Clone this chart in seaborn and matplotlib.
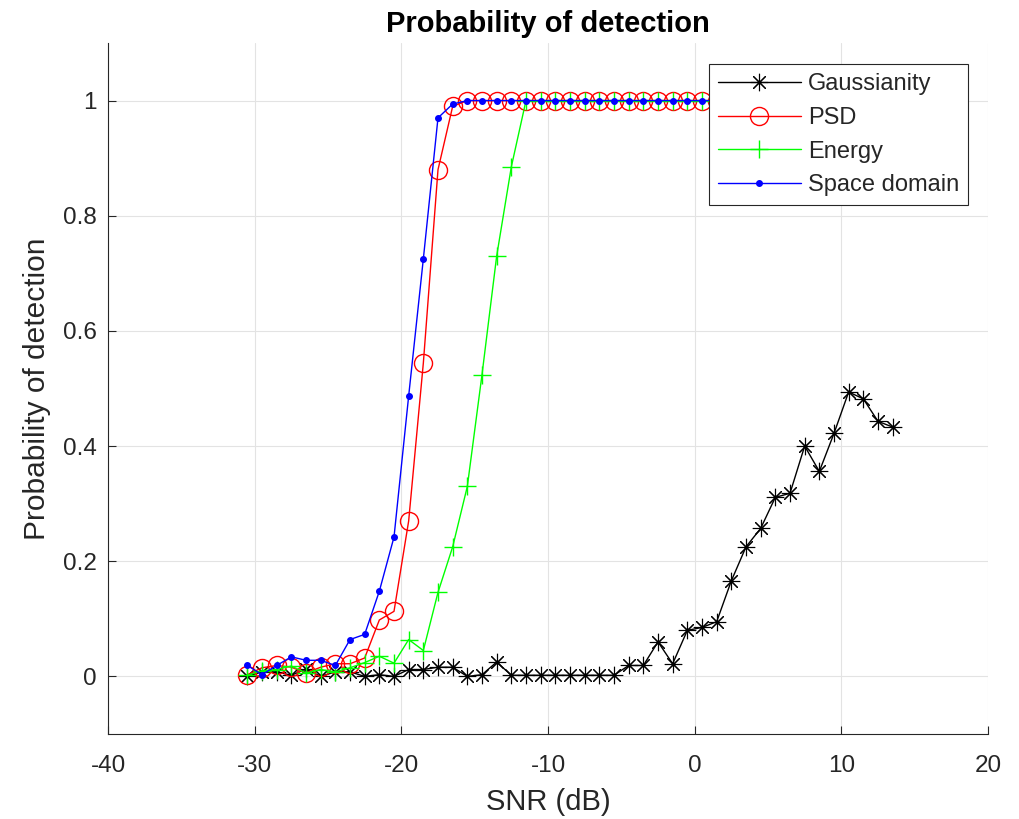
import numpy as np
import pandas as pd
import matplotlib
matplotlib.use("Agg")
import matplotlib.pyplot as plt
import seaborn as sns
from matplotlib.ticker import FuncFormatter

# ---- data ----
snr = [-30.5, -29.5, -28.5, -27.5, -26.5, -25.5, -24.5, -23.5, -22.5, -21.5,
       -20.5, -19.5, -18.5, -17.5, -16.5, -15.5, -14.5, -13.5, -12.5, -11.5,
       -10.5, -9.5, -8.5, -7.5, -6.5, -5.5, -4.5, -3.5, -2.5, -1.5,
       -0.5, 0.5, 1.5, 2.5, 3.5, 4.5, 5.5, 6.5, 7.5, 8.5,
       9.5, 10.5, 11.5, 12.5, 13.5]

gaussianity = [0.000, 0.008, 0.008, 0.002, 0.013, 0.000, 0.008, 0.008, 0.000, 0.003,
               0.000, 0.012, 0.012, 0.016, 0.016, 0.000, 0.003, 0.025, 0.002, 0.002,
               0.002, 0.002, 0.002, 0.002, 0.002, 0.002, 0.019, 0.019, 0.060, 0.022,
               0.080, 0.085, 0.095, 0.166, 0.225, 0.257, 0.311, 0.318, 0.400, 0.356,
               0.422, 0.494, 0.482, 0.443, 0.433]

psd = [0.003, 0.015, 0.019, 0.016, 0.006, 0.016, 0.022, 0.022, 0.032, 0.098,
       0.113, 0.270, 0.544, 0.880, 0.990, 1.0, 1.0, 1.0, 1.0, 1.0,
       1.0, 1.0, 1.0, 1.0, 1.0, 1.0, 1.0, 1.0, 1.0, 1.0,
       1.0, 1.0, 1.0, 1.0, 1.0, 1.0, 1.0, 1.0, 1.0, 1.0,
       1.0, 1.0, 1.0, 1.0, 1.0]

energy = [0.002, 0.010, 0.012, 0.018, 0.006, 0.012, 0.008, 0.015, 0.024, 0.035,
          0.023, 0.064, 0.045, 0.146, 0.225, 0.330, 0.524, 0.730, 0.885, 1.0,
          1.0, 1.0, 1.0, 1.0, 1.0, 1.0, 1.0, 1.0, 1.0, 1.0,
          1.0, 1.0, 1.0, 1.0, 1.0, 1.0, 1.0, 1.0, 1.0, 1.0,
          1.0, 1.0, 1.0, 1.0, 1.0]

space_domain = [0.019, 0.003, 0.019, 0.034, 0.028, 0.028, 0.019, 0.064, 0.073, 0.148,
                0.242, 0.487, 0.725, 0.970, 0.994, 1.0, 1.0, 1.0, 1.0, 1.0,
                1.0, 1.0, 1.0, 1.0, 1.0, 1.0, 1.0, 1.0, 1.0, 1.0,
                1.0, 1.0, 1.0, 1.0, 1.0, 1.0, 1.0, 1.0, 1.0, 1.0,
                1.0, 1.0, 1.0, 1.0, 1.0]

series_names = ["Gaussianity", "PSD", "Energy", "Space domain"]
x_ticks = [-40, -30, -20, -10, 0, 10, 20]
y_ticks = [0, 0.2, 0.4, 0.6, 0.8, 1.0]

# ---- styling ----
sns.set_theme(style="whitegrid")
plt.rcParams['font.family'] = ['Liberation Sans', 'DejaVu Sans']
DARK = "#262626"

fig = plt.figure(figsize=(10.19, 8.19), dpi=100)
ax = fig.add_axes([108 / 1019, 1 - 734 / 819, 880 / 1019, 691 / 819])
ax.set_facecolor("white")

df = pd.DataFrame({"snr": snr, "Gaussianity": gaussianity, "PSD": psd,
                   "Energy": energy, "Space domain": space_domain})

styles = {
    "Gaussianity": dict(color="black", marker=(8, 2, 0), markersize=12.5,
                        markerfacecolor="black", markeredgecolor="black", markeredgewidth=0.8),
    "PSD": dict(color="red", marker="o", markersize=13,
                markerfacecolor="none", markeredgecolor="red", markeredgewidth=1.0),
    "Energy": dict(color="#00ff00", marker="+", markersize=13,
                   markerfacecolor="none", markeredgecolor="#00ff00", markeredgewidth=1.0),
    "Space domain": dict(color="blue", marker=".", markersize=8,
                         markerfacecolor="blue", markeredgecolor="blue", markeredgewidth=1.0),
}

for name in series_names:
    sns.lineplot(data=df, x="snr", y=name, ax=ax, label=name, linewidth=1.0,
                 estimator=None, sort=False, **styles[name])

ax.set_xlim(-40, 20)
ax.set_ylim(-0.1, 1.1)
ax.set_xticks(x_ticks)
ax.set_yticks(y_ticks)
ax.yaxis.set_major_formatter(FuncFormatter(lambda v, p: f"{v:g}"))
ax.xaxis.set_major_formatter(FuncFormatter(lambda v, p: f"{v:g}"))

ax.grid(True, color="#e3e3e3", linewidth=0.8)
for side in ["top", "right"]:
    ax.spines[side].set_visible(False)
for side in ["bottom", "left"]:
    ax.spines[side].set_visible(True)
    ax.spines[side].set_color(DARK)
    ax.spines[side].set_linewidth(0.8)
ax.tick_params(axis="both", direction="in", length=6, width=0.8, color=DARK,
               labelcolor=DARK, labelsize=17.5)
ax.tick_params(axis="x", bottom=True, pad=15)
ax.tick_params(axis="y", left=True, pad=8)

ax.set_xlabel("SNR (dB)", fontsize=21, color=DARK, labelpad=8)
ax.set_ylabel("Probability of detection", fontsize=21.5, color=DARK, labelpad=9)
ax.set_title("Probability of detection", fontsize=21, fontweight="bold", color="black", pad=8)

leg = ax.legend(loc="upper right", bbox_to_anchor=(968 / 1019, 1 - 64 / 819),
                bbox_transform=fig.transFigure, fontsize=17, frameon=True,
                fancybox=False, edgecolor=DARK, framealpha=1.0, handlelength=3.5,
                borderpad=0.38, labelspacing=0.5, handletextpad=0.3, borderaxespad=0)
leg.get_frame().set_linewidth(0.8)
for t in leg.get_texts():
    t.set_color(DARK)

fig.savefig("out.png", dpi=100, facecolor="white")
